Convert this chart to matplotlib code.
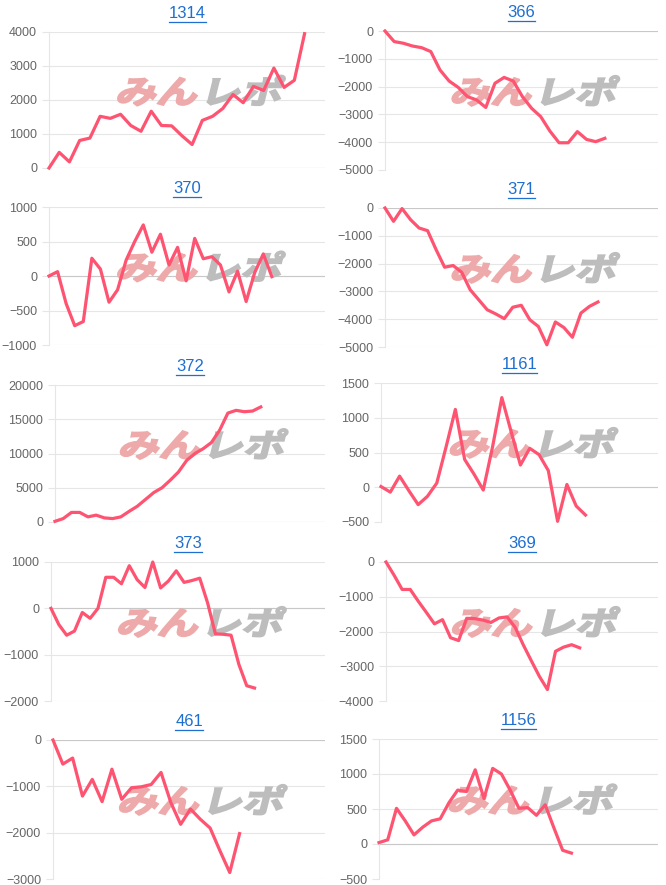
import matplotlib
matplotlib.use("Agg")
import matplotlib.pyplot as plt
import matplotlib.transforms as mtransforms
from matplotlib.lines import Line2D
from matplotlib.patches import PathPatch
from matplotlib.textpath import TextPath
from matplotlib.font_manager import FontProperties
import numpy as np

# machine numbers (chart titles) and their running values
titles = ["1314", "366", "370", "371", "372", "1161", "373", "369", "461", "1156"]

v1314 = [0, 460, 180, 810, 880, 1520, 1460, 1580, 1250, 1080, 1670, 1250, 1240,
         950, 690, 1400, 1520, 1750, 2160, 1920, 2400, 2280, 2940, 2370, 2580, 3950]
v366 = [0, -380, -440, -540, -600, -740, -1400, -1800, -2030, -2360, -2480, -2750,
        -1880, -1670, -1800, -2360, -2780, -3080, -3600, -4020, -4020, -3620,
        -3900, -3980, -3860]
v370 = [0, 63, -400, -720, -660, 257, 100, -380, -200, 230, 500, 740, 345, 605,
        160, 415, -70, 545, 250, 280, 160, -230, 70, -370, 50, 320, -10]
v371 = [0, -480, -20, -420, -720, -815, -1500, -2130, -2070, -2310, -2940, -3300,
        -3660, -3810, -3980, -3570, -3500, -4020, -4260, -4920, -4100, -4300,
        -4650, -3780, -3540, -3380]
v372 = [100, 500, 1400, 1400, 750, 1000, 600, 500, 750, 1550, 2300, 3300, 4300,
        5000, 6100, 7300, 9000, 10000, 10700, 11600, 13400, 15900, 16300, 16100,
        16200, 16800]
v1161 = [10, -70, 160, -50, -250, -130, 60, 580, 1120, 400, 190, -40, 580, 1290,
         800, 320, 560, 470, 240, -490, 40, -270, -400]
v373 = [0, -350, -580, -490, -90, -215, 0, 670, 670, 530, 920, 620, 450, 1000,
        440, 590, 810, 560, 600, 650, 120, -550, -560, -580, -1210, -1670, -1720]
v369 = [0, -380, -790, -790, -1130, -1450, -1780, -1660, -2180, -2260, -1620,
        -1630, -1670, -1740, -1610, -1580, -1880, -2380, -2840, -3290, -3670,
        -2570, -2450, -2380, -2470]
v461 = [0, -520, -390, -1210, -850, -1330, -630, -1280, -1030, -1010, -960, -700,
        -1350, -1820, -1490, -1710, -1900, -2390, -2860, -2020]
v1156 = [20, 60, 510, 330, 130, 240, 330, 360, 590, 770, 750, 1060, 650, 1080,
         1000, 770, 510, 520, 410, 560, 230, -90, -130]

series = [v1314, v366, v370, v371, v372, v1161, v373, v369, v461, v1156]

# y axis range / step per chart
ymins = [0, -5000, -1000, -5000, 0, -500, -2000, -4000, -3000, -500]
ymaxs = [4000, 0, 1000, 0, 20000, 1500, 1000, 0, 0, 1500]
ysteps = [1000, 1000, 500, 1000, 5000, 500, 1000, 1000, 1000, 500]

# layout in pixels: plot area left, right, top, bottom; and x extent of the category axis
W, H = 666, 885
boxes = [(49, 325, 32, 168), (385, 658, 31, 170),
         (49, 325, 207, 345), (385, 658, 208, 347),
         (55, 325, 385, 522), (381, 658, 383, 522),
         (51, 325, 562, 701), (386, 658, 562, 701),
         (53, 325, 740, 879), (379, 658, 739, 879)]
xmaxs = [27.0, 29.8, 32.2, 32.05, 32.8, 29.8, 35.0, 33.7, 27.7, 31.9]

LINE = "#fe5371"
GRID = "#e6e6e6"
ZERO = "#c8c8c8"
TITLE = "#1e6fd0"

plt.rcParams["font.family"] = ["Liberation Sans", "DejaVu Sans"]

# watermark glyph outlines
logo_fp = FontProperties(family="Noto Sans CJK JP", weight="bold")
logo_a = TextPath((0, 0), "みん", size=1, prop=logo_fp)
logo_b = TextPath((0, 0), "レポ", size=1, prop=logo_fp)


def add_logo(ax):
    cx, cy = ax.transAxes.transform((0.547, 0.57))
    sx, sy = 41, 32
    wa = logo_a.get_extents().x1
    wb = logo_b.get_extents().x1
    gap = 0.1
    total = wa + gap + wb
    for path, x0, col in [(logo_a, 0, "#eeaaaa"), (logo_b, wa + gap, "#bdbdbd")]:
        tr = (mtransforms.Affine2D()
              .translate(x0 - total / 2, -0.4)
              .scale(sx, sy)
              .skew_deg(14, 0)
              .translate(cx, cy))
        patch = PathPatch(path, transform=tr, facecolor=col, edgecolor=col,
                          lw=1.4, zorder=2, clip_on=False)
        ax.add_artist(patch)


fig = plt.figure(figsize=(W / 100, H / 100), dpi=100)
fig.patch.set_facecolor("white")

title_texts = []
for i in range(len(titles)):
    l, r, t, b = boxes[i]
    ax = fig.add_axes([l / W, 1 - b / H, (r - l) / W, (b - t) / H])
    vals = series[i]
    x = np.arange(len(vals))

    ax.set_xlim(0, xmaxs[i])
    ax.set_ylim(ymins[i], ymaxs[i])
    ax.set_yticks(np.arange(ymins[i], ymaxs[i] + 1, ysteps[i]))
    ax.set_xticks([])
    ax.grid(axis="y", color=GRID, lw=0.8)
    ax.set_axisbelow(True)
    ax.axhline(0, color=ZERO, lw=0.8, zorder=1)
    for s in ["top", "right", "bottom"]:
        ax.spines[s].set_visible(False)
    ax.spines["left"].set_color(GRID)
    ax.spines["left"].set_linewidth(0.8)
    ax.tick_params(axis="y", length=5, width=0.8, color=GRID, pad=3.6,
                   labelcolor="#666666", labelsize=9)

    add_logo(ax)

    ax.plot(x, vals, color=LINE, lw=2.3, zorder=3, clip_on=False)

    tt = ax.annotate(titles[i], xy=(0.5, 1), xycoords="axes fraction",
                     xytext=(0, 14), textcoords="offset pixels",
                     ha="center", va="baseline", fontsize=12, color=TITLE)
    title_texts.append(tt)

# underline the titles like links
fig.canvas.draw()
rend = fig.canvas.get_renderer()
for tt in title_texts:
    bb = tt.get_window_extent(rend)
    yy = bb.y0 - 1
    fig.add_artist(Line2D([bb.x0 / W, bb.x1 / W], [yy / H, yy / H],
                          transform=fig.transFigure, color=TITLE, lw=0.9))

fig.savefig("out.png", dpi=100)
